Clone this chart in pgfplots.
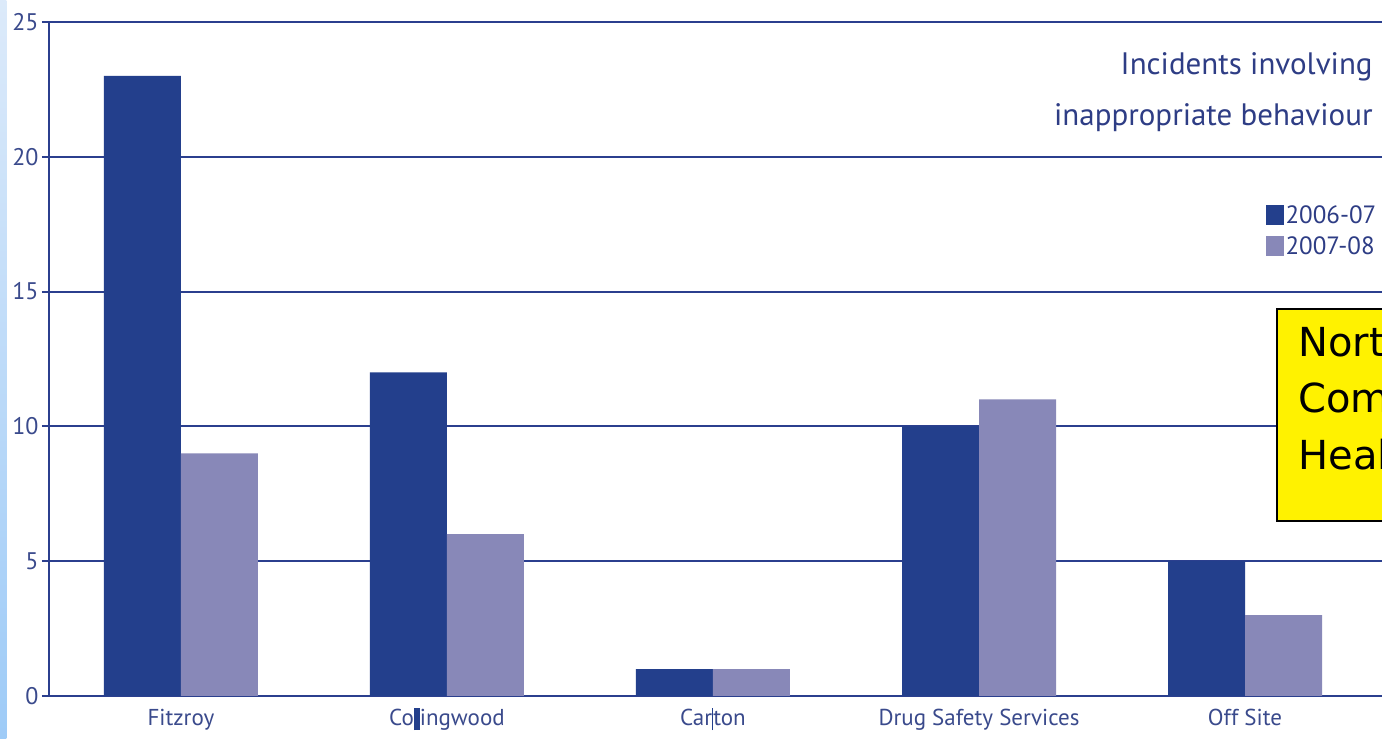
\documentclass[border=0pt]{standalone}
\usepackage{pgfplots}
\pgfplotsset{compat=1.18}
\usepackage{fontspec}
\setmainfont{PT Sans}
\newfontfamily\tagfont{DejaVu Sans}

\definecolor{darkbar}{HTML}{233F8C}
\definecolor{lightbar}{HTML}{8888B8}
\definecolor{gridblue}{HTML}{2B3F8E}
\definecolor{labelblue}{HTML}{3A4A8C}
\definecolor{titleblue}{HTML}{2E3D85}
\definecolor{stripTop}{RGB}{220,234,250}
\definecolor{stripBot}{RGB}{158,203,247}

\begin{document}
\begin{tikzpicture}
\useasboundingbox (0,0) rectangle (691pt,369.5pt);
\clip (0,0) rectangle (691pt,369.5pt);
\fill[white] (0,0) rectangle (691pt,369.5pt);
% slide edge strip
\shade[top color=stripTop, bottom color=stripBot] (0,0) rectangle (3.2pt,369.5pt);

\begin{axis}[
  at={(24.5pt,21.5pt)}, anchor=south west,
  scale only axis, width=666.5pt, height=337pt,
  ybar=0pt, bar width=38.5pt,
  xmin=-0.496, xmax=4.515, ymin=0, ymax=25,
  xtick={0,1,2,3,4},
  xticklabels={Fitzroy,
    {Co\textcolor{darkbar}{\rule[-2.4pt]{3pt}{11pt}}ingwood},
    {Car\textcolor{darkbar}{\rule[-2.4pt]{0.6pt}{11pt}}ton},
    Drug Safety Services, Off Site},
  ytick={0,5,10,15,20,25},
  axis x line*=bottom, axis y line*=left,
  axis line style={-, gridblue, line width=1pt},
  ymajorgrids, grid style={gridblue, line width=1pt},
  xtick style={draw=none},
  ytick style={gridblue, line width=1pt},
  tick align=outside, major tick length=3.5pt,
  /pgf/number format/assume math mode=true,
  yticklabel style={font=\fontsize{12}{14}\selectfont, text=labelblue, xshift=1.8pt},
  xticklabel style={font=\fontsize{11.5}{13}\selectfont, text=labelblue,
    text height=8.6pt, text depth=2.4pt, yshift=1pt},
  legend image code/.code={\fill[#1] (0pt,-4.5pt) rectangle (9pt,5.5pt);},
  legend style={at={(0.9975,0.731)}, anchor=north east, draw=none, fill=none,
    font=\fontsize{12.5}{14}\selectfont, text=titleblue, row sep=3pt,
    inner sep=0pt, nodes={inner sep=1pt}},
  legend cell align=left,
]
\addplot[fill=darkbar, draw=none] coordinates {(0,23) (1,12) (2,1) (3,10) (4,5)};
\addplot[fill=lightbar, draw=none] coordinates {(0,9) (1,6) (2,1) (3,11) (4,3)};
\legend{2006-07, 2007-08}
\end{axis}

% chart title
\node[anchor=base east, text=titleblue, font=\fontsize{15.5}{18}\selectfont, inner sep=0pt]
  at (686.5pt,332pt) {Incidents involving};
\node[anchor=base east, text=titleblue, font=\fontsize{15.5}{18}\selectfont, inner sep=0pt]
  at (686.5pt,306.5pt) {inappropriate behaviour};

% organisation tag
\filldraw[fill=yellow, draw=black, line width=1pt] (638.5pt,109pt) rectangle (720pt,215pt);
\begin{scope}[every node/.style={anchor=base west, inner sep=0pt, font=\tagfont\fontsize{20}{24}\selectfont}]
  \node at (649pt,191pt) {North Yarra};
  \node at (649pt,163pt) {Community};
  \node at (649pt,134.5pt) {Health};
\end{scope}
\end{tikzpicture}
\end{document}
